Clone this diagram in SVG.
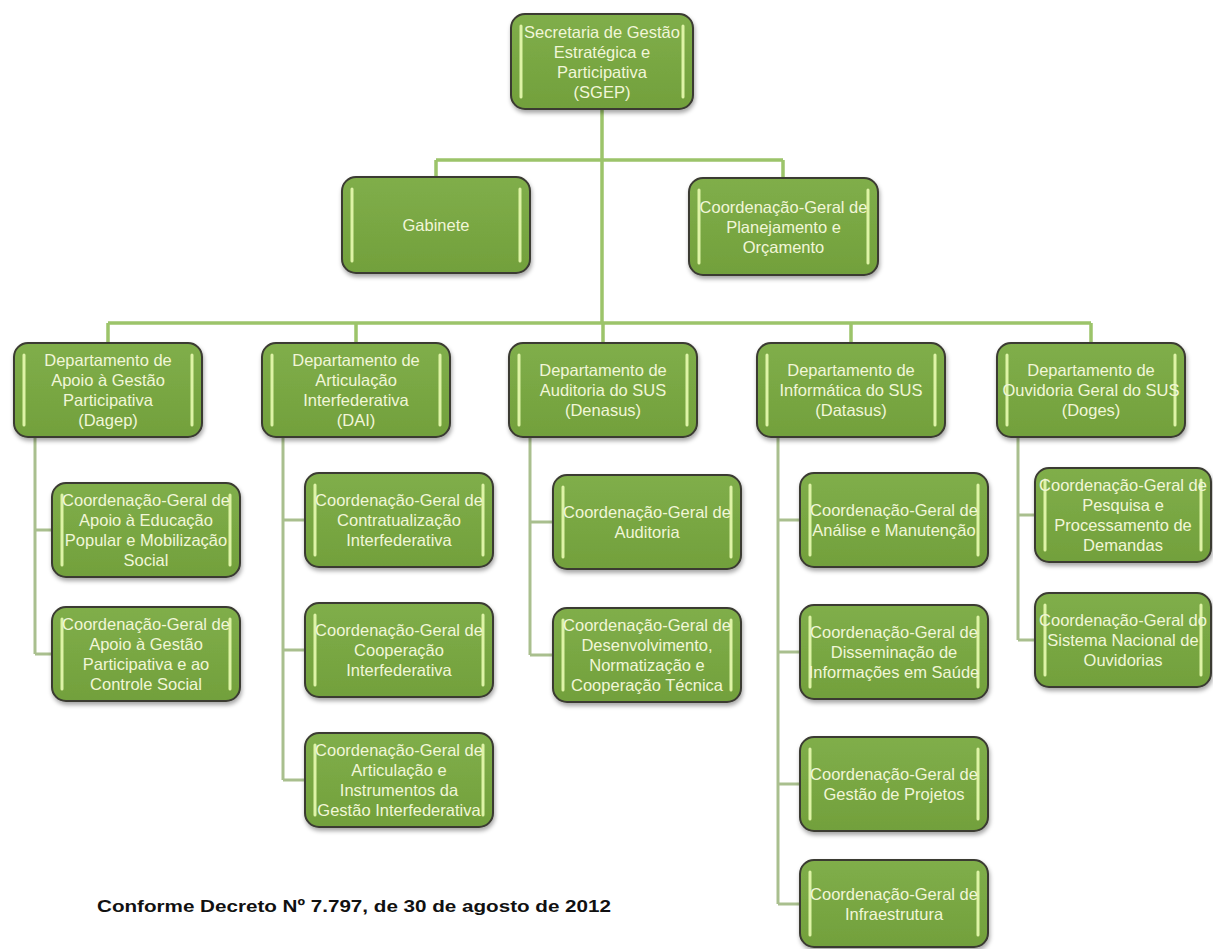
<svg xmlns="http://www.w3.org/2000/svg" width="1213" height="949" viewBox="0 0 1213 949">
<defs>
<filter id="sh" x="-10%" y="-10%" width="120%" height="130%"><feDropShadow dx="1" dy="3" stdDeviation="2" flood-color="#000" flood-opacity="0.35"/></filter>
<linearGradient id="gf" x1="0" y1="0" x2="0" y2="1"><stop offset="0" stop-color="#80ae4a"/><stop offset="1" stop-color="#72a03c"/></linearGradient>
</defs>
<style>
.box{fill:url(#gf);stroke:#3a3a32;stroke-width:2;filter:url(#sh)}
.hl{stroke:#def3a6;stroke-width:3;stroke-linecap:round}
.t{font-family:"Liberation Sans",Arial,sans-serif;font-size:16.5px;fill:#f1f6d8;text-anchor:middle}
.c1{stroke:#9cc46a;stroke-width:3.5;fill:none}
.c2{stroke:#a9bf8e;stroke-width:3;fill:none}
.foot{font-family:"Liberation Sans",Arial,sans-serif;font-size:17px;font-weight:bold;fill:#111}
</style>
<rect width="1213" height="949" fill="#fff"/>
<g id="connectors">
<path class="c1" d="M602 109V323M436 160H783M436 160V177M783 160V178M108 323H1091M108 323V343M356 323V343M603 323V343M851 323V343M1091 323V343"/>
<path class="c2" d="M35 437V654M35 530H52M35 654H52"/>
<path class="c2" d="M283 437V780M283 520H305M283 650H305M283 780H305"/>
<path class="c2" d="M530 437V655M530 522H553M530 655H553"/>
<path class="c2" d="M778 437V904M778 520H800M778 652H800M778 784H800M778 904H800"/>
<path class="c2" d="M1018 437V640M1018 515H1035M1018 640H1035"/>
</g>
<g id="sgep"><rect class="box" x="511" y="14" width="182" height="95" rx="14"/><line class="hl" x1="521" y1="26" x2="521" y2="97"/><line class="hl" x1="683" y1="26" x2="683" y2="97"/>
<text class="t" x="602" y="37.5"><tspan x="602">Secretaria de Gestão</tspan><tspan x="602" dy="20">Estratégica e</tspan><tspan x="602" dy="20">Participativa</tspan><tspan x="602" dy="20">(SGEP)</tspan></text></g>
<g id="gabinete"><rect class="box" x="342" y="177" width="188" height="96" rx="14"/><line class="hl" x1="352" y1="189" x2="352" y2="261"/><line class="hl" x1="520" y1="189" x2="520" y2="261"/>
<text class="t" x="436" y="231">Gabinete</text></g>
<g id="cgpo"><rect class="box" x="689" y="178" width="189" height="97" rx="14"/><line class="hl" x1="699" y1="190" x2="699" y2="263"/><line class="hl" x1="868" y1="190" x2="868" y2="263"/>
<text class="t" x="783.5" y="212.5"><tspan x="783.5">Coordenação-Geral de</tspan><tspan x="783.5" dy="20">Planejamento e</tspan><tspan x="783.5" dy="20">Orçamento</tspan></text></g>
<g id="dagep"><rect class="box" x="14" y="343" width="188" height="94" rx="14"/><line class="hl" x1="24" y1="355" x2="24" y2="425"/><line class="hl" x1="192" y1="355" x2="192" y2="425"/>
<text class="t" x="108" y="366"><tspan x="108">Departamento de</tspan><tspan x="108" dy="20">Apoio à Gestão</tspan><tspan x="108" dy="20">Participativa</tspan><tspan x="108" dy="20">(Dagep)</tspan></text></g>
<g id="dai"><rect class="box" x="262" y="343" width="188" height="94" rx="14"/><line class="hl" x1="272" y1="355" x2="272" y2="425"/><line class="hl" x1="440" y1="355" x2="440" y2="425"/>
<text class="t" x="356" y="366"><tspan x="356">Departamento de</tspan><tspan x="356" dy="20">Articulação</tspan><tspan x="356" dy="20">Interfederativa</tspan><tspan x="356" dy="20">(DAI)</tspan></text></g>
<g id="denasus"><rect class="box" x="509" y="343" width="188" height="94" rx="14"/><line class="hl" x1="519" y1="355" x2="519" y2="425"/><line class="hl" x1="687" y1="355" x2="687" y2="425"/>
<text class="t" x="603" y="376"><tspan x="603">Departamento de</tspan><tspan x="603" dy="20">Auditoria do SUS</tspan><tspan x="603" dy="20">(Denasus)</tspan></text></g>
<g id="datasus"><rect class="box" x="757" y="343" width="188" height="94" rx="14"/><line class="hl" x1="767" y1="355" x2="767" y2="425"/><line class="hl" x1="935" y1="355" x2="935" y2="425"/>
<text class="t" x="851" y="376"><tspan x="851">Departamento de</tspan><tspan x="851" dy="20">Informática do SUS</tspan><tspan x="851" dy="20">(Datasus)</tspan></text></g>
<g id="doges"><rect class="box" x="997" y="343" width="188" height="94" rx="14"/><line class="hl" x1="1007" y1="355" x2="1007" y2="425"/><line class="hl" x1="1175" y1="355" x2="1175" y2="425"/>
<text class="t" x="1091" y="376"><tspan x="1091">Departamento de</tspan><tspan x="1091" dy="20">Ouvidoria Geral do SUS</tspan><tspan x="1091" dy="20">(Doges)</tspan></text></g>
<g id="dagep-c1"><rect class="box" x="52" y="483" width="188" height="94" rx="14"/><line class="hl" x1="62" y1="495" x2="62" y2="565"/><line class="hl" x1="230" y1="495" x2="230" y2="565"/>
<text class="t" x="146" y="506"><tspan x="146">Coordenação-Geral de</tspan><tspan x="146" dy="20">Apoio à Educação</tspan><tspan x="146" dy="20">Popular e Mobilização</tspan><tspan x="146" dy="20">Social</tspan></text></g>
<g id="dagep-c2"><rect class="box" x="52" y="607" width="188" height="94" rx="14"/><line class="hl" x1="62" y1="619" x2="62" y2="689"/><line class="hl" x1="230" y1="619" x2="230" y2="689"/>
<text class="t" x="146" y="630"><tspan x="146">Coordenação-Geral de</tspan><tspan x="146" dy="20">Apoio à Gestão</tspan><tspan x="146" dy="20">Participativa e ao</tspan><tspan x="146" dy="20">Controle Social</tspan></text></g>
<g id="dai-c1"><rect class="box" x="305" y="473" width="188" height="94" rx="14"/><line class="hl" x1="315" y1="485" x2="315" y2="555"/><line class="hl" x1="483" y1="485" x2="483" y2="555"/>
<text class="t" x="399" y="506"><tspan x="399">Coordenação-Geral de</tspan><tspan x="399" dy="20">Contratualização</tspan><tspan x="399" dy="20">Interfederativa</tspan></text></g>
<g id="dai-c2"><rect class="box" x="305" y="603" width="188" height="94" rx="14"/><line class="hl" x1="315" y1="615" x2="315" y2="685"/><line class="hl" x1="483" y1="615" x2="483" y2="685"/>
<text class="t" x="399" y="636"><tspan x="399">Coordenação-Geral de</tspan><tspan x="399" dy="20">Cooperação</tspan><tspan x="399" dy="20">Interfederativa</tspan></text></g>
<g id="dai-c3"><rect class="box" x="305" y="733" width="188" height="94" rx="14"/><line class="hl" x1="315" y1="745" x2="315" y2="815"/><line class="hl" x1="483" y1="745" x2="483" y2="815"/>
<text class="t" x="399" y="756"><tspan x="399">Coordenação-Geral de</tspan><tspan x="399" dy="20">Articulação e</tspan><tspan x="399" dy="20">Instrumentos da</tspan><tspan x="399" dy="20">Gestão Interfederativa</tspan></text></g>
<g id="denasus-c1"><rect class="box" x="553" y="475" width="188" height="94" rx="14"/><line class="hl" x1="563" y1="487" x2="563" y2="557"/><line class="hl" x1="731" y1="487" x2="731" y2="557"/>
<text class="t" x="647" y="518"><tspan x="647">Coordenação-Geral de</tspan><tspan x="647" dy="20">Auditoria</tspan></text></g>
<g id="denasus-c2"><rect class="box" x="553" y="608" width="188" height="94" rx="14"/><line class="hl" x1="563" y1="620" x2="563" y2="690"/><line class="hl" x1="731" y1="620" x2="731" y2="690"/>
<text class="t" x="647" y="631"><tspan x="647">Coordenação-Geral de</tspan><tspan x="647" dy="20">Desenvolvimento,</tspan><tspan x="647" dy="20">Normatização e</tspan><tspan x="647" dy="20">Cooperação Técnica</tspan></text></g>
<g id="datasus-c1"><rect class="box" x="800" y="473" width="188" height="94" rx="14"/><line class="hl" x1="810" y1="485" x2="810" y2="555"/><line class="hl" x1="978" y1="485" x2="978" y2="555"/>
<text class="t" x="894" y="516"><tspan x="894">Coordenação-Geral de</tspan><tspan x="894" dy="20">Análise e Manutenção</tspan></text></g>
<g id="datasus-c2"><rect class="box" x="800" y="605" width="188" height="94" rx="14"/><line class="hl" x1="810" y1="617" x2="810" y2="687"/><line class="hl" x1="978" y1="617" x2="978" y2="687"/>
<text class="t" x="894" y="638"><tspan x="894">Coordenação-Geral de</tspan><tspan x="894" dy="20">Disseminação de</tspan><tspan x="894" dy="20">Informações em Saúde</tspan></text></g>
<g id="datasus-c3"><rect class="box" x="800" y="737" width="188" height="94" rx="14"/><line class="hl" x1="810" y1="749" x2="810" y2="819"/><line class="hl" x1="978" y1="749" x2="978" y2="819"/>
<text class="t" x="894" y="780"><tspan x="894">Coordenação-Geral de</tspan><tspan x="894" dy="20">Gestão de Projetos</tspan></text></g>
<g id="datasus-c4"><rect class="box" x="800" y="860" width="188" height="87" rx="14"/><line class="hl" x1="810" y1="872" x2="810" y2="935"/><line class="hl" x1="978" y1="872" x2="978" y2="935"/>
<text class="t" x="894" y="900"><tspan x="894">Coordenação-Geral de</tspan><tspan x="894" dy="20">Infraestrutura</tspan></text></g>
<g id="doges-c1"><rect class="box" x="1035" y="468" width="176" height="94" rx="14"/><line class="hl" x1="1045" y1="480" x2="1045" y2="550"/><line class="hl" x1="1201" y1="480" x2="1201" y2="550"/>
<text class="t" x="1123" y="491"><tspan x="1123">Coordenação-Geral de</tspan><tspan x="1123" dy="20">Pesquisa e</tspan><tspan x="1123" dy="20">Processamento de</tspan><tspan x="1123" dy="20">Demandas</tspan></text></g>
<g id="doges-c2"><rect class="box" x="1035" y="593" width="176" height="94" rx="14"/><line class="hl" x1="1045" y1="605" x2="1045" y2="675"/><line class="hl" x1="1201" y1="605" x2="1201" y2="675"/>
<text class="t" x="1123" y="626"><tspan x="1123">Coordenação-Geral do</tspan><tspan x="1123" dy="20">Sistema Nacional de</tspan><tspan x="1123" dy="20">Ouvidorias</tspan></text></g>
<text class="foot" x="97" y="912" textLength="514" lengthAdjust="spacingAndGlyphs">Conforme Decreto Nº 7.797, de 30 de agosto de 2012</text>
</svg>
